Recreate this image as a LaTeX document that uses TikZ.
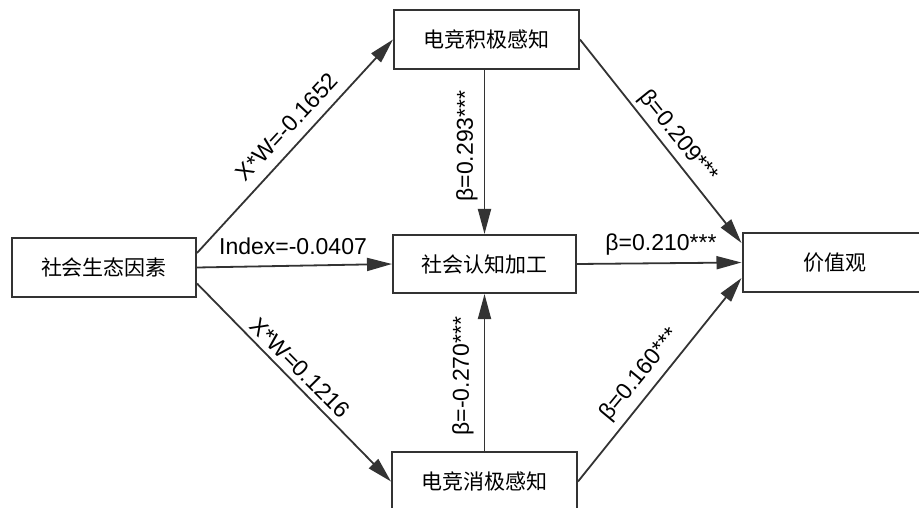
\documentclass[tikz,border=0pt]{standalone}
\usepackage{fontspec}
\setmainfont{Liberation Sans}
\newfontfamily\cjk{Noto Sans CJK SC}
\usetikzlibrary{arrows.meta}
\begin{document}
\begin{tikzpicture}[x=1pt,y=1pt,
  box/.style={draw=black!80, line width=2pt, fill=white, minimum width=185pt,
    minimum height=59pt, inner sep=0pt, font=\cjk\fontsize{21}{21}\selectfont},
  conn/.style={draw=black!80, line width=1.8pt, -{Triangle[length=25pt,width=13pt]}},
  lbl/.style={font=\fontsize{23}{23}\selectfont, inner sep=0pt}]
\useasboundingbox (0,0) rectangle (919,507);
% boxes
\node[box, minimum width=184pt] (A) at (104,239.5) {社会生态因素};
\node[box] (T) at (486.5,467.5) {电竞积极感知};
\node[box, minimum width=183pt, minimum height=58pt] (M) at (484.5,243) {社会认知加工};
\node[box] (B) at (484.5,25.5) {电竞消极感知};
\node[box] (V) at (835,244.5) {价值观};
% connectors
\draw[conn] ([yshift=14.5pt]A.east) -- (T.west);
\draw[conn] (A.east) -- (M.west);
\draw[conn] ([yshift=-16pt]A.east) -- (B.west);
\draw[conn] (M.north |- T.south) -- (M.north);
\draw[conn] (M.south |- B.north) -- (M.south);
\draw[conn] (T.east) -- ([yshift=19.5pt]V.west);
\draw[conn] (M.east) -- (V.west);
\draw[conn] (B.east) -- ([yshift=-15.5pt]V.west);
% labels
\node[lbl, rotate=47] (l1) at (287,380) {X*W=-0.1652};
\node[lbl, rotate=-45.3] (l2) at (300,139) {X*W=0.1216};
\node[lbl] (l3) at (293,261) {Index=-0.0407};
\node[lbl] (l4) at (661,262) {β=0.210***};
\node[lbl, rotate=90] (l5) at (467,361) {β=0.293***};
\node[lbl, rotate=90] (l6) at (463,131) {β=-0.270***};
\node[lbl, rotate=-51] (l7) at (678,370) {β=0.209***};
\node[lbl, rotate=50.4] (l8) at (640,132) {β=0.160***};
\end{tikzpicture}
\end{document}
